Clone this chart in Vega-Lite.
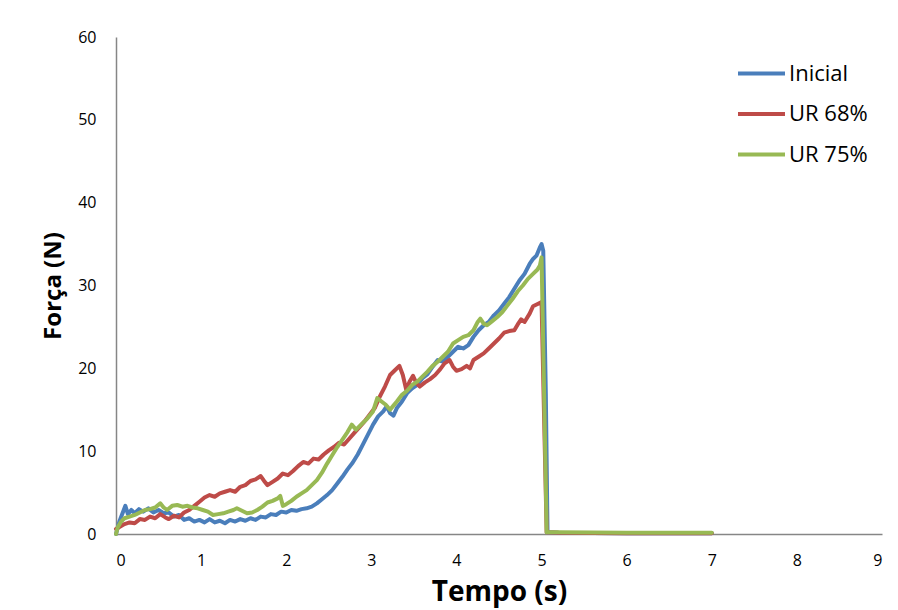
{
  "$schema": "https://vega.github.io/schema/vega-lite/v6.json",
  "width": 766,
  "height": 497,
  "autosize": {"type": "none"},
  "padding": {"left": 116, "top": 37, "right": 16, "bottom": 76},
  "background": "white",
  "config": {"view": {"stroke": null}, "font": "Open Sans"},
  "datasets": {
    "forca": [
      {"s": "Inicial", "t": 0, "F": 0}, {"s": "Inicial", "t": 0.04, "F": 1.5}, {"s": "Inicial", "t": 0.08, "F": 2.6}, {"s": "Inicial", "t": 0.11, "F": 3.4}, {"s": "Inicial", "t": 0.14, "F": 2.4}, {"s": "Inicial", "t": 0.18, "F": 2.9}, {"s": "Inicial", "t": 0.22, "F": 2.5}, {"s": "Inicial", "t": 0.27, "F": 3.0}, {"s": "Inicial", "t": 0.32, "F": 2.7}, {"s": "Inicial", "t": 0.38, "F": 3.1}, {"s": "Inicial", "t": 0.44, "F": 2.6}, {"s": "Inicial", "t": 0.5, "F": 2.9}, {"s": "Inicial", "t": 0.56, "F": 2.5}, {"s": "Inicial", "t": 0.62, "F": 2.6}, {"s": "Inicial", "t": 0.68, "F": 2.1}, {"s": "Inicial", "t": 0.74, "F": 2.3}, {"s": "Inicial", "t": 0.8, "F": 1.7}, {"s": "Inicial", "t": 0.86, "F": 1.9}, {"s": "Inicial", "t": 0.92, "F": 1.5}, {"s": "Inicial", "t": 0.98, "F": 1.7}, {"s": "Inicial", "t": 1.04, "F": 1.4}, {"s": "Inicial", "t": 1.1, "F": 1.8}, {"s": "Inicial", "t": 1.16, "F": 1.4}, {"s": "Inicial", "t": 1.22, "F": 1.6}, {"s": "Inicial", "t": 1.28, "F": 1.3}, {"s": "Inicial", "t": 1.34, "F": 1.7}, {"s": "Inicial", "t": 1.4, "F": 1.5}, {"s": "Inicial", "t": 1.46, "F": 1.8}, {"s": "Inicial", "t": 1.52, "F": 1.6}, {"s": "Inicial", "t": 1.58, "F": 1.9}, {"s": "Inicial", "t": 1.64, "F": 1.7}, {"s": "Inicial", "t": 1.7, "F": 2.1}, {"s": "Inicial", "t": 1.76, "F": 2.0}, {"s": "Inicial", "t": 1.82, "F": 2.4}, {"s": "Inicial", "t": 1.88, "F": 2.3}, {"s": "Inicial", "t": 1.94, "F": 2.7}, {"s": "Inicial", "t": 2.0, "F": 2.6}, {"s": "Inicial", "t": 2.06, "F": 2.9}, {"s": "Inicial", "t": 2.12, "F": 2.8}, {"s": "Inicial", "t": 2.18, "F": 3.0}, {"s": "Inicial", "t": 2.24, "F": 3.1}, {"s": "Inicial", "t": 2.3, "F": 3.3}, {"s": "Inicial", "t": 2.36, "F": 3.7}, {"s": "Inicial", "t": 2.42, "F": 4.2}, {"s": "Inicial", "t": 2.48, "F": 4.7}, {"s": "Inicial", "t": 2.54, "F": 5.3}, {"s": "Inicial", "t": 2.6, "F": 6.1}, {"s": "Inicial", "t": 2.66, "F": 6.9}, {"s": "Inicial", "t": 2.72, "F": 7.8}, {"s": "Inicial", "t": 2.78, "F": 8.6}, {"s": "Inicial", "t": 2.84, "F": 9.6}, {"s": "Inicial", "t": 2.9, "F": 10.8}, {"s": "Inicial", "t": 2.96, "F": 12.0}, {"s": "Inicial", "t": 3.02, "F": 13.2}, {"s": "Inicial", "t": 3.08, "F": 14.2}, {"s": "Inicial", "t": 3.14, "F": 14.8}, {"s": "Inicial", "t": 3.18, "F": 15.4}, {"s": "Inicial", "t": 3.22, "F": 14.6}, {"s": "Inicial", "t": 3.26, "F": 14.3}, {"s": "Inicial", "t": 3.3, "F": 15.2}, {"s": "Inicial", "t": 3.36, "F": 16.0}, {"s": "Inicial", "t": 3.42, "F": 17.0}, {"s": "Inicial", "t": 3.48, "F": 17.6}, {"s": "Inicial", "t": 3.54, "F": 18.0}, {"s": "Inicial", "t": 3.6, "F": 18.8}, {"s": "Inicial", "t": 3.66, "F": 19.3}, {"s": "Inicial", "t": 3.72, "F": 20.2}, {"s": "Inicial", "t": 3.78, "F": 21.0}, {"s": "Inicial", "t": 3.84, "F": 20.8}, {"s": "Inicial", "t": 3.9, "F": 21.4}, {"s": "Inicial", "t": 3.96, "F": 22.0}, {"s": "Inicial", "t": 4.02, "F": 22.6}, {"s": "Inicial", "t": 4.08, "F": 22.4}, {"s": "Inicial", "t": 4.14, "F": 22.8}, {"s": "Inicial", "t": 4.2, "F": 23.8}, {"s": "Inicial", "t": 4.26, "F": 24.6}, {"s": "Inicial", "t": 4.32, "F": 25.2}, {"s": "Inicial", "t": 4.38, "F": 25.6}, {"s": "Inicial", "t": 4.44, "F": 26.4}, {"s": "Inicial", "t": 4.5, "F": 27.0}, {"s": "Inicial", "t": 4.56, "F": 27.8}, {"s": "Inicial", "t": 4.62, "F": 28.6}, {"s": "Inicial", "t": 4.68, "F": 29.6}, {"s": "Inicial", "t": 4.74, "F": 30.6}, {"s": "Inicial", "t": 4.8, "F": 31.4}, {"s": "Inicial", "t": 4.86, "F": 32.6}, {"s": "Inicial", "t": 4.9, "F": 33.2}, {"s": "Inicial", "t": 4.94, "F": 33.6}, {"s": "Inicial", "t": 4.98, "F": 34.6}, {"s": "Inicial", "t": 5.0, "F": 35.0}, {"s": "Inicial", "t": 5.02, "F": 34.2}, {"s": "Inicial", "t": 5.05, "F": 17}, {"s": "Inicial", "t": 5.07, "F": 0.2}, {"s": "Inicial", "t": 5.2, "F": 0.15}, {"s": "Inicial", "t": 6, "F": 0.1}, {"s": "Inicial", "t": 7, "F": 0.1},

      {"s": "UR 68%", "t": 0, "F": 0.6}, {"s": "UR 68%", "t": 0.05, "F": 0.9}, {"s": "UR 68%", "t": 0.1, "F": 1.2}, {"s": "UR 68%", "t": 0.16, "F": 1.4}, {"s": "UR 68%", "t": 0.22, "F": 1.3}, {"s": "UR 68%", "t": 0.28, "F": 1.8}, {"s": "UR 68%", "t": 0.34, "F": 1.7}, {"s": "UR 68%", "t": 0.4, "F": 2.1}, {"s": "UR 68%", "t": 0.46, "F": 1.9}, {"s": "UR 68%", "t": 0.52, "F": 2.4}, {"s": "UR 68%", "t": 0.58, "F": 2.0}, {"s": "UR 68%", "t": 0.62, "F": 1.8}, {"s": "UR 68%", "t": 0.68, "F": 2.2}, {"s": "UR 68%", "t": 0.74, "F": 2.0}, {"s": "UR 68%", "t": 0.8, "F": 2.6}, {"s": "UR 68%", "t": 0.86, "F": 2.9}, {"s": "UR 68%", "t": 0.92, "F": 3.4}, {"s": "UR 68%", "t": 0.98, "F": 3.9}, {"s": "UR 68%", "t": 1.04, "F": 4.4}, {"s": "UR 68%", "t": 1.1, "F": 4.7}, {"s": "UR 68%", "t": 1.16, "F": 4.5}, {"s": "UR 68%", "t": 1.22, "F": 4.9}, {"s": "UR 68%", "t": 1.28, "F": 5.1}, {"s": "UR 68%", "t": 1.34, "F": 5.3}, {"s": "UR 68%", "t": 1.4, "F": 5.1}, {"s": "UR 68%", "t": 1.46, "F": 5.7}, {"s": "UR 68%", "t": 1.52, "F": 5.9}, {"s": "UR 68%", "t": 1.58, "F": 6.4}, {"s": "UR 68%", "t": 1.64, "F": 6.6}, {"s": "UR 68%", "t": 1.7, "F": 7.0}, {"s": "UR 68%", "t": 1.74, "F": 6.4}, {"s": "UR 68%", "t": 1.78, "F": 5.9}, {"s": "UR 68%", "t": 1.84, "F": 6.3}, {"s": "UR 68%", "t": 1.9, "F": 6.7}, {"s": "UR 68%", "t": 1.96, "F": 7.3}, {"s": "UR 68%", "t": 2.02, "F": 7.1}, {"s": "UR 68%", "t": 2.08, "F": 7.6}, {"s": "UR 68%", "t": 2.14, "F": 8.2}, {"s": "UR 68%", "t": 2.2, "F": 8.7}, {"s": "UR 68%", "t": 2.26, "F": 8.5}, {"s": "UR 68%", "t": 2.32, "F": 9.1}, {"s": "UR 68%", "t": 2.38, "F": 9.0}, {"s": "UR 68%", "t": 2.44, "F": 9.6}, {"s": "UR 68%", "t": 2.5, "F": 10.1}, {"s": "UR 68%", "t": 2.56, "F": 10.5}, {"s": "UR 68%", "t": 2.62, "F": 11.0}, {"s": "UR 68%", "t": 2.68, "F": 10.8}, {"s": "UR 68%", "t": 2.74, "F": 11.5}, {"s": "UR 68%", "t": 2.8, "F": 12.2}, {"s": "UR 68%", "t": 2.86, "F": 12.9}, {"s": "UR 68%", "t": 2.92, "F": 13.6}, {"s": "UR 68%", "t": 2.98, "F": 14.4}, {"s": "UR 68%", "t": 3.04, "F": 15.2}, {"s": "UR 68%", "t": 3.1, "F": 16.6}, {"s": "UR 68%", "t": 3.16, "F": 17.8}, {"s": "UR 68%", "t": 3.22, "F": 19.2}, {"s": "UR 68%", "t": 3.28, "F": 19.8}, {"s": "UR 68%", "t": 3.33, "F": 20.3}, {"s": "UR 68%", "t": 3.37, "F": 19.2}, {"s": "UR 68%", "t": 3.41, "F": 17.4}, {"s": "UR 68%", "t": 3.45, "F": 18.4}, {"s": "UR 68%", "t": 3.49, "F": 19.1}, {"s": "UR 68%", "t": 3.53, "F": 18.2}, {"s": "UR 68%", "t": 3.57, "F": 17.8}, {"s": "UR 68%", "t": 3.63, "F": 18.3}, {"s": "UR 68%", "t": 3.69, "F": 18.7}, {"s": "UR 68%", "t": 3.75, "F": 19.2}, {"s": "UR 68%", "t": 3.81, "F": 19.9}, {"s": "UR 68%", "t": 3.86, "F": 20.6}, {"s": "UR 68%", "t": 3.92, "F": 21.0}, {"s": "UR 68%", "t": 3.96, "F": 20.2}, {"s": "UR 68%", "t": 4.0, "F": 19.7}, {"s": "UR 68%", "t": 4.06, "F": 19.9}, {"s": "UR 68%", "t": 4.12, "F": 20.3}, {"s": "UR 68%", "t": 4.16, "F": 20.0}, {"s": "UR 68%", "t": 4.2, "F": 21.0}, {"s": "UR 68%", "t": 4.26, "F": 21.4}, {"s": "UR 68%", "t": 4.32, "F": 21.8}, {"s": "UR 68%", "t": 4.38, "F": 22.4}, {"s": "UR 68%", "t": 4.44, "F": 23.0}, {"s": "UR 68%", "t": 4.5, "F": 23.6}, {"s": "UR 68%", "t": 4.56, "F": 24.3}, {"s": "UR 68%", "t": 4.62, "F": 24.5}, {"s": "UR 68%", "t": 4.68, "F": 24.6}, {"s": "UR 68%", "t": 4.72, "F": 25.3}, {"s": "UR 68%", "t": 4.76, "F": 25.9}, {"s": "UR 68%", "t": 4.8, "F": 25.6}, {"s": "UR 68%", "t": 4.86, "F": 26.6}, {"s": "UR 68%", "t": 4.9, "F": 27.5}, {"s": "UR 68%", "t": 4.96, "F": 27.8}, {"s": "UR 68%", "t": 5.0, "F": 28.0}, {"s": "UR 68%", "t": 5.03, "F": 14}, {"s": "UR 68%", "t": 5.06, "F": 0.2}, {"s": "UR 68%", "t": 5.2, "F": 0.15}, {"s": "UR 68%", "t": 6, "F": 0.1}, {"s": "UR 68%", "t": 7, "F": 0.1},

      {"s": "UR 75%", "t": 0, "F": 0}, {"s": "UR 75%", "t": 0.02, "F": 0.8}, {"s": "UR 75%", "t": 0.06, "F": 1.5}, {"s": "UR 75%", "t": 0.1, "F": 1.9}, {"s": "UR 75%", "t": 0.16, "F": 2.1}, {"s": "UR 75%", "t": 0.22, "F": 2.3}, {"s": "UR 75%", "t": 0.28, "F": 2.6}, {"s": "UR 75%", "t": 0.34, "F": 2.9}, {"s": "UR 75%", "t": 0.4, "F": 3.0}, {"s": "UR 75%", "t": 0.46, "F": 3.2}, {"s": "UR 75%", "t": 0.52, "F": 3.7}, {"s": "UR 75%", "t": 0.56, "F": 3.2}, {"s": "UR 75%", "t": 0.6, "F": 2.9}, {"s": "UR 75%", "t": 0.66, "F": 3.4}, {"s": "UR 75%", "t": 0.72, "F": 3.5}, {"s": "UR 75%", "t": 0.78, "F": 3.3}, {"s": "UR 75%", "t": 0.84, "F": 3.4}, {"s": "UR 75%", "t": 0.9, "F": 3.2}, {"s": "UR 75%", "t": 0.96, "F": 3.1}, {"s": "UR 75%", "t": 1.02, "F": 2.9}, {"s": "UR 75%", "t": 1.08, "F": 2.7}, {"s": "UR 75%", "t": 1.14, "F": 2.3}, {"s": "UR 75%", "t": 1.2, "F": 2.4}, {"s": "UR 75%", "t": 1.26, "F": 2.5}, {"s": "UR 75%", "t": 1.32, "F": 2.7}, {"s": "UR 75%", "t": 1.38, "F": 2.9}, {"s": "UR 75%", "t": 1.42, "F": 3.1}, {"s": "UR 75%", "t": 1.48, "F": 2.8}, {"s": "UR 75%", "t": 1.54, "F": 2.5}, {"s": "UR 75%", "t": 1.6, "F": 2.6}, {"s": "UR 75%", "t": 1.66, "F": 2.9}, {"s": "UR 75%", "t": 1.72, "F": 3.3}, {"s": "UR 75%", "t": 1.78, "F": 3.8}, {"s": "UR 75%", "t": 1.84, "F": 4.0}, {"s": "UR 75%", "t": 1.9, "F": 4.3}, {"s": "UR 75%", "t": 1.93, "F": 4.6}, {"s": "UR 75%", "t": 1.96, "F": 3.4}, {"s": "UR 75%", "t": 2.0, "F": 3.6}, {"s": "UR 75%", "t": 2.06, "F": 4.0}, {"s": "UR 75%", "t": 2.12, "F": 4.5}, {"s": "UR 75%", "t": 2.18, "F": 4.9}, {"s": "UR 75%", "t": 2.24, "F": 5.3}, {"s": "UR 75%", "t": 2.3, "F": 5.9}, {"s": "UR 75%", "t": 2.36, "F": 6.5}, {"s": "UR 75%", "t": 2.42, "F": 7.4}, {"s": "UR 75%", "t": 2.48, "F": 8.5}, {"s": "UR 75%", "t": 2.54, "F": 9.5}, {"s": "UR 75%", "t": 2.6, "F": 10.5}, {"s": "UR 75%", "t": 2.66, "F": 11.4}, {"s": "UR 75%", "t": 2.72, "F": 12.3}, {"s": "UR 75%", "t": 2.77, "F": 13.2}, {"s": "UR 75%", "t": 2.82, "F": 12.6}, {"s": "UR 75%", "t": 2.88, "F": 13.2}, {"s": "UR 75%", "t": 2.95, "F": 13.9}, {"s": "UR 75%", "t": 3.02, "F": 14.8}, {"s": "UR 75%", "t": 3.07, "F": 16.4}, {"s": "UR 75%", "t": 3.12, "F": 16.0}, {"s": "UR 75%", "t": 3.17, "F": 15.6}, {"s": "UR 75%", "t": 3.22, "F": 15.0}, {"s": "UR 75%", "t": 3.26, "F": 15.5}, {"s": "UR 75%", "t": 3.3, "F": 16.0}, {"s": "UR 75%", "t": 3.36, "F": 16.8}, {"s": "UR 75%", "t": 3.42, "F": 17.3}, {"s": "UR 75%", "t": 3.48, "F": 18.0}, {"s": "UR 75%", "t": 3.54, "F": 18.4}, {"s": "UR 75%", "t": 3.6, "F": 19.0}, {"s": "UR 75%", "t": 3.66, "F": 19.6}, {"s": "UR 75%", "t": 3.72, "F": 20.3}, {"s": "UR 75%", "t": 3.78, "F": 20.8}, {"s": "UR 75%", "t": 3.84, "F": 21.4}, {"s": "UR 75%", "t": 3.9, "F": 22.0}, {"s": "UR 75%", "t": 3.96, "F": 23.0}, {"s": "UR 75%", "t": 4.02, "F": 23.4}, {"s": "UR 75%", "t": 4.08, "F": 23.8}, {"s": "UR 75%", "t": 4.14, "F": 24.0}, {"s": "UR 75%", "t": 4.2, "F": 24.6}, {"s": "UR 75%", "t": 4.25, "F": 25.6}, {"s": "UR 75%", "t": 4.28, "F": 26.0}, {"s": "UR 75%", "t": 4.32, "F": 25.4}, {"s": "UR 75%", "t": 4.36, "F": 25.2}, {"s": "UR 75%", "t": 4.42, "F": 25.7}, {"s": "UR 75%", "t": 4.48, "F": 26.2}, {"s": "UR 75%", "t": 4.54, "F": 26.8}, {"s": "UR 75%", "t": 4.6, "F": 27.6}, {"s": "UR 75%", "t": 4.66, "F": 28.4}, {"s": "UR 75%", "t": 4.72, "F": 29.3}, {"s": "UR 75%", "t": 4.78, "F": 30.0}, {"s": "UR 75%", "t": 4.84, "F": 30.8}, {"s": "UR 75%", "t": 4.9, "F": 31.4}, {"s": "UR 75%", "t": 4.95, "F": 31.9}, {"s": "UR 75%", "t": 4.98, "F": 32.4}, {"s": "UR 75%", "t": 5.0, "F": 33.4}, {"s": "UR 75%", "t": 5.03, "F": 17}, {"s": "UR 75%", "t": 5.06, "F": 0.2}, {"s": "UR 75%", "t": 5.2, "F": 0.2}, {"s": "UR 75%", "t": 6, "F": 0.15}, {"s": "UR 75%", "t": 7, "F": 0.15}
    ]
  },
  "data": {"name": "forca"},
  "mark": {"type": "line", "strokeWidth": 4, "strokeJoin": "round", "strokeCap": "round"},
  "encoding": {
    "x": {
      "field": "t",
      "type": "quantitative",
      "scale": {"domain": [0, 9], "nice": false},
      "axis": {
        "title": "Tempo (s)",
        "values": [0, 1, 2, 3, 4, 5, 6, 7, 8, 9],
        "format": "d",
        "grid": false,
        "ticks": false,
        "domainColor": "#868686",
        "domainWidth": 1.5,
        "labelFontSize": 16,
        "labelColor": "#000000",
        "labelPadding": 18,
        "titleFontSize": 28,
        "titleFontWeight": "bold",
        "titleColor": "#000000",
        "titlePadding": 10
      }
    },
    "y": {
      "field": "F",
      "type": "quantitative",
      "scale": {"domain": [0, 60], "nice": false},
      "axis": {
        "title": "Força (N)",
        "values": [0, 10, 20, 30, 40, 50, 60],
        "grid": false,
        "ticks": false,
        "domainColor": "#868686",
        "domainWidth": 1.5,
        "labelFontSize": 16,
        "labelColor": "#000000",
        "labelPadding": 20,
        "titleFontSize": 24,
        "titleFontWeight": "bold",
        "titleColor": "#000000",
        "titlePadding": 12
      }
    },
    "color": {
      "field": "s",
      "type": "nominal",
      "scale": {"domain": ["Inicial", "UR 68%", "UR 75%"], "range": ["#4A7EBB", "#BE4B48", "#98B954"]},
      "legend": {
        "title": null,
        "orient": "none",
        "legendX": 620,
        "legendY": 11,
        "symbolType": "stroke",
        "symbolSize": 2209,
        "symbolStrokeWidth": 4,
        "labelFontSize": 22,
        "labelColor": "#000000",
        "labelOffset": 2,
        "rowPadding": 3.5
      }
    }
  }
}
